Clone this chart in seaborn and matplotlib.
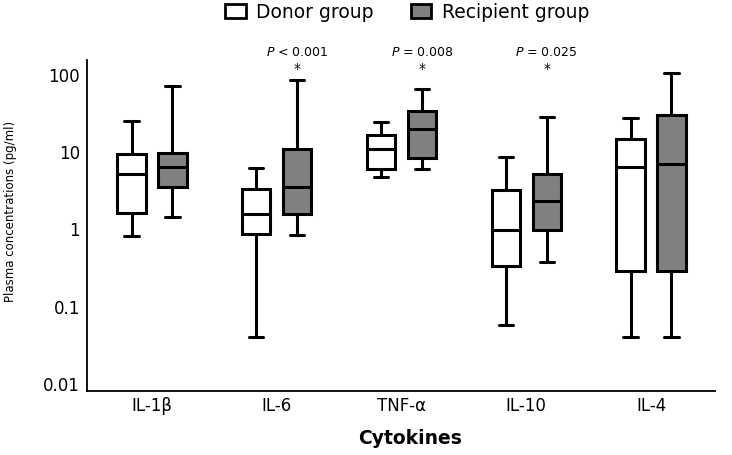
import numpy as np
import pandas as pd
import matplotlib
matplotlib.use("Agg")
import matplotlib.pyplot as plt
from matplotlib.patches import Patch
import seaborn as sns

# ---- data ----
cytokines = ["IL-1β", "IL-6", "TNF-α", "IL-10", "IL-4"]
groups = ["Donor group", "Recipient group"]

donor_low  = [1.0, 0.05, 5.8, 0.071, 0.05]
donor_q1   = [2.0, 1.06, 7.5, 0.41, 0.36]
donor_med  = [6.3, 1.97, 13.3, 1.21, 7.9]
donor_q3   = [11.5, 4.05, 20.3, 4.0, 18.0]
donor_high = [31.0, 7.7, 29.6, 10.6, 34.0]

recip_low  = [1.8, 1.04, 7.4, 0.47, 0.05]
recip_q1   = [4.4, 1.97, 10.4, 1.19, 0.36]
recip_med  = [7.9, 4.3, 24.2, 2.84, 8.5]
recip_q3   = [12.1, 13.3, 41.9, 6.4, 36.7]
recip_high = [88.0, 104.0, 81.0, 35.3, 128.0]

p_labels = [None, "< 0.001", "= 0.008", "= 0.025", None]

y_ticks = [0.01, 0.1, 1, 10, 100]
y_ticklabels = ["0.01", "0.1", "1", "10", "100"]

# ---- build long table ----
rows = []
for i, c in enumerate(cytokines):
    for g, arrs in ((groups[0], (donor_low, donor_q1, donor_med, donor_q3, donor_high)),
                    (groups[1], (recip_low, recip_q1, recip_med, recip_q3, recip_high))):
        for a in arrs:
            rows.append({"Cytokine": c, "Group": g, "Value": a[i]})
df = pd.DataFrame(rows)

sns.set_style("white")
plt.rcParams["font.family"] = ["DejaVu Sans"]
plt.rcParams["text.color"] = "black"
plt.rcParams["axes.labelcolor"] = "black"

fig = plt.figure(figsize=(7.32, 4.55), dpi=100)
ax = fig.add_axes([87/732, 1 - 391/455, (715 - 87)/732, (391 - 60)/455])

palette = {"Donor group": "#ffffff", "Recipient group": "#808080"}
lw = 2.2
sns.boxplot(data=df, x="Cytokine", y="Value", hue="Group", order=cytokines,
            hue_order=groups, palette=palette, log_scale=True, whis=(0, 100),
            width=0.657, gap=0.306, fliersize=0, linewidth=lw, linecolor="black",
            saturation=1, legend=False, ax=ax,
            boxprops=dict(edgecolor="black", linewidth=lw),
            whiskerprops=dict(color="black", linewidth=lw),
            capprops=dict(color="black", linewidth=lw),
            medianprops=dict(color="black", linewidth=lw))

ax.set_yscale("log")
ax.set_ylim(0.01, 190)
ax.set_xlim(-0.521, 4.513)
ax.set_yticks(y_ticks)
ax.set_yticklabels(y_ticklabels)
ax.yaxis.set_minor_locator(matplotlib.ticker.NullLocator())
for lab in ax.get_yticklabels():
    lab.set_va("baseline")

ax.tick_params(axis="y", which="major", direction="out", length=4, width=1.2,
               labelsize=12, pad=1, colors="black")
ax.tick_params(axis="x", which="major", direction="out", length=3, width=1.2,
               labelsize=12, pad=1.5, colors="black")

for s in ["top", "right"]:
    ax.spines[s].set_visible(False)
for s in ["left", "bottom"]:
    ax.spines[s].set_color("black")
    ax.spines[s].set_linewidth(1.3)

ax.set_xlabel("Cytokines", fontsize=13.5, fontweight="bold")
ax.xaxis.set_label_coords((410 - 87) / 628, (391 - 438) / 331)
ax.xaxis.label.set_va("center")
ax.set_ylabel("Plasma concentrations (pg/ml)", fontsize=8.5)
ax.yaxis.set_label_coords((10 - 87) / 628, (391 - 211) / 331)
ax.yaxis.label.set_va("center")

# significance annotations above recipient boxes
trans = matplotlib.transforms.blended_transform_factory(ax.transData, ax.transAxes)
for i, p in enumerate(p_labels):
    if p is None:
        continue
    xpos = i + 0.164
    ax.text(xpos, 1 + 7/331, r"$\it{P}$" + " " + p, transform=trans, ha="center",
            va="center", fontsize=9, clip_on=False)
    ax.text(xpos, 1 - 9/331, "*", transform=trans, ha="center", va="center",
            fontsize=10, clip_on=False)

handles = [Patch(facecolor=palette[g], edgecolor="black", linewidth=2.0) for g in groups]
fig.legend(handles, groups, loc="center", bbox_to_anchor=(407/732, 1 - 12/455),
           ncol=2, frameon=False, fontsize=13.5, handlelength=1.1, handleheight=0.75,
           handletextpad=0.55, columnspacing=2.0, borderpad=0)

fig.savefig("out.png", dpi=100)
